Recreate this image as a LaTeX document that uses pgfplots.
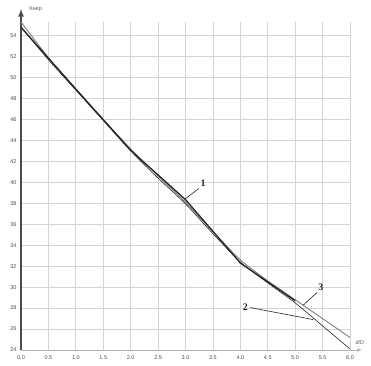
\documentclass[border=0pt]{standalone}
\usepackage{fontspec}
\setmainfont{Liberation Sans}
\newfontfamily\serifnum{Liberation Serif}
\usepackage{pgfplots}
\pgfplotsset{compat=1.18}
\begin{document}
\begin{tikzpicture}
\path[use as bounding box] (-21pt,-15pt) rectangle (350pt,350pt);
\begin{axis}[
  scale only axis, width=329pt, height=328pt,
  at={(0pt,0pt)}, anchor=south west,
  xmin=0, xmax=6, ymin=24, ymax=55.3,
  xtick={0,0.5,1,1.5,2,2.5,3,3.5,4,4.5,5,5.5,6},
  ytick={24,26,28,30,32,34,36,38,40,42,44,46,48,50,52,54},
  grid=major, grid style={draw=black!17, line width=0.7pt},
  axis x line=bottom, axis y line=left,
  x axis line style={draw=black!30, line width=0.6pt, -latex, shorten >=-12pt},
  y axis line style={draw=black!70, line width=1.6pt, -latex, shorten >=-13pt},
  major tick length=0pt,
  /pgf/number format/assume math mode=true,
  xticklabel style={font=\fontsize{5.5}{6}\selectfont, text=black!70,
    /pgf/number format/fixed, /pgf/number format/fixed zerofill,
    /pgf/number format/precision=1, yshift=-2pt},
  yticklabel style={font=\fontsize{5.5}{6}\selectfont, text=black!70, xshift=-1pt},
  clip=false,
]
% curve 3
\addplot[draw=black!50, line width=0.9pt, smooth, tension=0.4] coordinates {
 (0,55.3) (0.5,51.9) (1,48.9) (1.5,46.0) (2,43.2) (2.5,40.6) (3,38.1)
 (3.5,35.3) (4,32.6) (4.5,30.6) (5,28.8) (5.5,27.0) (6,25.2)};
% curve 2
\addplot[draw=black!85, line width=0.6pt, smooth, tension=0.4] coordinates {
 (0,54.8) (0.5,51.7) (1,48.8) (1.5,45.9) (2,43.0) (2.5,40.4) (3,37.95)
 (3.5,35.1) (4,32.4) (4.5,30.4) (5,28.5) (5.5,26.3) (6,24.1)};
% curve 1
\addplot[draw=black!85, line width=1.3pt, line join=round] coordinates {
 (0,54.8) (1,48.9) (2,43.05) (3,38.35) (4,32.3) (5,28.7)};
% labels
\draw[black!85, line width=0.6pt] (axis cs:3.24,39.4) -- (axis cs:2.99,38.4);
\node[font=\serifnum\bfseries\fontsize{10}{10}\selectfont, text=black!85] at (axis cs:3.32,39.9) {1};
\draw[black!85, line width=0.6pt] (axis cs:4.18,28.05) -- (axis cs:5.33,26.9);
\node[font=\serifnum\bfseries\fontsize{10}{10}\selectfont, text=black!85] at (axis cs:4.09,28.1) {2};
\draw[black!85, line width=0.6pt] (axis cs:5.40,29.5) -- (axis cs:5.15,28.3);
\node[font=\serifnum\bfseries\fontsize{10}{10}\selectfont, text=black!85] at (axis cs:5.47,30.0) {3};
\node[font=\fontsize{5.5}{6}\selectfont, text=black!65] at (axis cs:6.18,24.75) {d/D};
\node[font=\fontsize{5.5}{6}\selectfont, text=black!65, anchor=west] at (axis cs:0.09,56.5) {Кнер};
\end{axis}
\end{tikzpicture}
\end{document}
